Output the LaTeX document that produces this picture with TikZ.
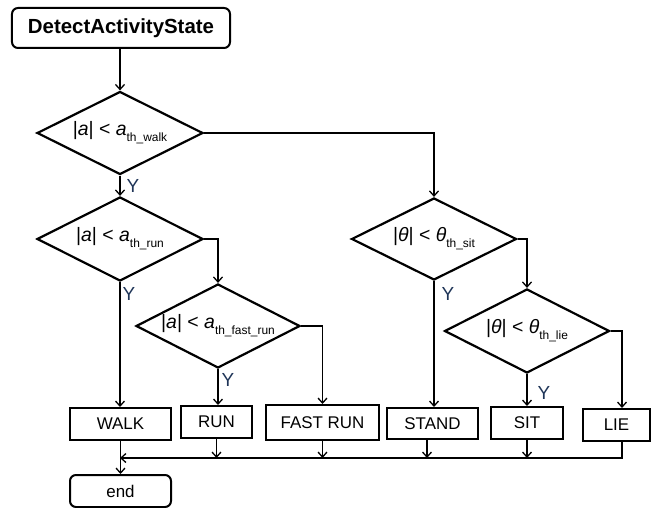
\documentclass[tikz,border=0pt]{standalone}
\usepackage{fontspec}
\setmainfont{Liberation Sans}
\usetikzlibrary{shapes.geometric,arrows.meta}
\definecolor{ylabcol}{HTML}{1F3558}
\newcommand{\mylabA}[1]{|\textit{a}| < \textit{a}\raisebox{-6bp}{\fontsize{12}{13}\selectfont #1}}
\newcommand{\mylabT}[1]{|\textit{θ}| < \textit{θ}\raisebox{-6bp}{\fontsize{12}{13}\selectfont #1}}
\begin{document}
\begin{tikzpicture}[x=1bp,y=-1bp,
  startbox/.style={draw, rounded corners=6bp, line width=2bp, minimum width=218bp, minimum height=40bp, inner sep=0pt, font=\bfseries\fontsize{20.5}{24}\selectfont},
  endbox/.style={draw, rounded corners=6bp, line width=2bp, minimum width=101bp, minimum height=32bp, inner sep=0pt, font=\fontsize{17}{20}\selectfont},
  statebox/.style={draw, line width=2bp, minimum height=32bp, inner sep=0pt, font=\fontsize{17}{20}\selectfont},
  decision/.style={draw, diamond, line width=2.2bp, inner sep=0pt, aspect=2.2, font=\fontsize{19.5}{22}\selectfont},
  conn/.style={line width=1.3bp, -{Straight Barb[length=5bp,width=9bp]}},
  ylab/.style={font=\fontsize{19}{22}\selectfont, text=ylabcol, inner sep=0pt}
]
\useasboundingbox (0,0) rectangle (652,508);

\node[startbox] (start) at (121,28) {DetectActivityState};
\node[decision, minimum width=166bp, minimum height=83bp] (d1) at (120,133) {\mylabA{th\_walk}};
\node[decision, minimum width=166bp, minimum height=84bp] (d2) at (120,239) {\mylabA{th\_run}};
\node[decision, minimum width=164bp, minimum height=84bp] (d4) at (218,326) {\mylabA{th\_fast\_run}};
\node[decision, minimum width=165bp, minimum height=82bp] (d3) at (434,239) {\mylabT{th\_sit}};
\node[decision, minimum width=165bp, minimum height=84bp] (d5) at (527,331) {\mylabT{th\_lie}};

\node[statebox, minimum width=101bp] (walk) at (120.5,424) {WALK};
\node[statebox, minimum width=71bp] (run) at (216.5,422) {RUN};
\node[statebox, minimum width=113bp, minimum height=35bp] (fastrun) at (322.5,422.5) {FAST RUN};
\node[statebox, minimum width=91bp, minimum height=31bp] (stand) at (432.5,423.5) {STAND};
\node[statebox, minimum width=72bp] (sit) at (527,423) {SIT};
\node[statebox, minimum width=67bp] (lie) at (616.5,425) {LIE};
\node[endbox] (end) at (120.5,491) {end};

\coordinate (bus) at (120,458);
\coordinate (liex) at (622,0);

\draw[conn] (d1.north |- start.south) -- (d1.north);
\draw[conn] (d1.east) -| (d3.north);
\draw[conn] (d1.south) -- (d2.north);
\draw[conn] (d2.east) -| (d4.north);
\draw[conn] (d2.south) -- (d2.south |- walk.north);
\draw[conn] (d4.south) -- (d4.south |- run.north);
\draw[conn] (d4.east) -| (fastrun.north);
\draw[conn] (d3.east) -| (d5.north);
\draw[conn] (d3.south) -- (d3.south |- stand.north);
\draw[conn] (d5.south) -- (d5.south |- sit.north);
\draw[conn] (d5.east) -| (liex |- lie.north);

\draw[conn] (liex |- lie.south) |- (bus);
\draw[conn] (run.south) -- (run.south |- bus);
\draw[conn] (fastrun.south) -- (fastrun.south |- bus);
\draw[conn] ([xshift=-5.5bp]stand.south) -- ([xshift=-5.5bp]stand.south |- bus);
\draw[conn] (sit.south) -- (sit.south |- bus);
\draw[conn] (walk.south -| end.north) -- (end.north);

\node[ylab] (y1) at (133,186) {Y};
\node[ylab] (y2) at (129,294) {Y};
\node[ylab] (y3) at (228,380) {Y};
\node[ylab] (y4) at (448,294) {Y};
\node[ylab] (y5) at (544,393) {Y};
\end{tikzpicture}
\end{document}
